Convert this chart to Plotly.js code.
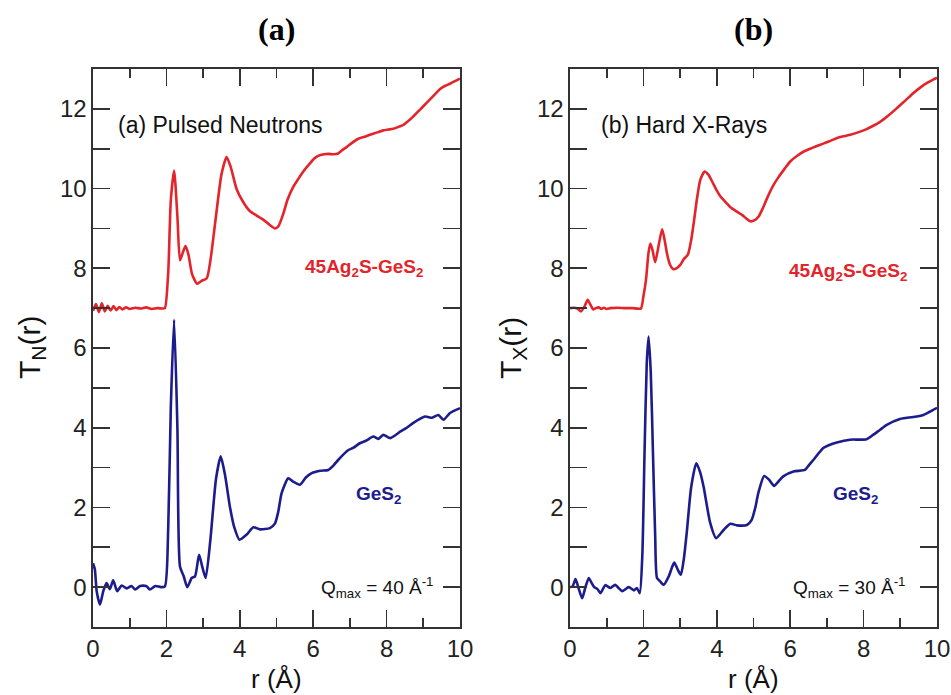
<!DOCTYPE html>
<html>
<head>
<meta charset="utf-8">
<script src="https://cdn.plot.ly/plotly-3.0.1.min.js"></script>
<style>html,body{margin:0;padding:0;background:#fff;}#chart{width:951px;height:695px;}</style>
</head>
<body>
<div id="chart"></div>
<script>
// ---- Data ----
// Panel (a): pulsed neutrons
const rN_Ag = [0,0.08,0.16,0.24,0.32,0.4,0.48,0.56,0.64,0.72,0.8,0.9,1.0,1.15,1.3,1.45,1.6,1.75,1.9,1.96,2.05,2.12,2.21,2.3,2.37,2.45,2.52,2.6,2.7,2.84,2.95,3.1,3.2,3.35,3.5,3.64,3.75,3.92,4.1,4.28,4.45,4.64,4.8,4.96,5.05,5.19,5.3,5.46,5.6,5.73,5.9,6.05,6.2,6.41,6.55,6.68,6.8,6.91,7.05,7.23,7.4,7.55,7.75,7.91,8.05,8.18,8.3,8.46,8.6,8.73,8.9,9.09,9.25,9.46,9.6,9.73,9.85,10];
const tN_Ag = [6.93,7.1,6.9,7.12,6.92,7.06,6.94,7.05,6.95,7.03,6.97,7.02,6.98,7.01,6.99,7.02,6.98,7.0,6.99,7.0,7.9,9.7,10.45,9.3,8.2,8.4,8.56,8.35,7.85,7.61,7.68,7.75,8.2,9.3,10.35,10.79,10.55,9.97,9.65,9.43,9.33,9.22,9.1,9.0,9.05,9.38,9.72,10.05,10.25,10.43,10.62,10.77,10.84,10.87,10.86,10.88,10.97,11.04,11.14,11.25,11.3,11.35,11.41,11.46,11.48,11.5,11.54,11.6,11.7,11.81,11.97,12.15,12.3,12.5,12.58,12.63,12.69,12.76];

const rN_Ge = [0,0.05,0.1,0.19,0.28,0.37,0.46,0.55,0.66,0.78,0.92,1.05,1.15,1.28,1.45,1.55,1.7,1.85,1.96,2.05,2.12,2.21,2.3,2.37,2.47,2.57,2.69,2.78,2.89,2.98,3.07,3.2,3.35,3.48,3.6,3.73,3.85,3.99,4.19,4.37,4.55,4.82,4.96,5.05,5.14,5.32,5.45,5.64,5.8,5.96,6.2,6.41,6.55,6.68,6.96,7.1,7.27,7.45,7.64,7.77,7.91,8.1,8.37,8.55,8.73,9.05,9.24,9.41,9.55,9.73,10];
const tN_Ge = [0.6,0.45,-0.1,-0.44,-0.1,0.1,-0.05,0.17,-0.1,0.04,-0.03,0.03,-0.06,0.03,0.03,-0.06,0.03,0.0,0.02,1.5,4.5,6.71,4.0,0.52,0.28,0.0,0.23,0.27,0.81,0.5,0.23,1.2,2.7,3.28,2.8,2.02,1.5,1.19,1.32,1.5,1.45,1.48,1.6,1.9,2.36,2.73,2.65,2.57,2.75,2.86,2.92,2.94,3.05,3.19,3.44,3.5,3.61,3.68,3.78,3.72,3.82,3.74,3.9,4.0,4.12,4.28,4.25,4.32,4.2,4.37,4.49];

// Panel (b): hard X-rays
const rX_Ag = [0,0.1,0.2,0.3,0.4,0.48,0.56,0.63,0.7,0.78,0.85,0.92,1.0,1.1,1.3,1.5,1.7,1.93,2.0,2.07,2.14,2.19,2.25,2.32,2.42,2.51,2.58,2.64,2.72,2.81,2.9,3.01,3.1,3.21,3.3,3.37,3.46,3.55,3.67,3.77,3.87,4.0,4.1,4.25,4.37,4.55,4.69,4.8,4.91,5.02,5.14,5.25,5.37,5.52,5.69,5.85,6.0,6.2,6.37,6.6,6.82,7.05,7.28,7.45,7.64,7.85,8.05,8.25,8.46,8.7,8.91,9.15,9.36,9.55,9.73,9.87,10];
const tX_Ag = [7.0,7.01,6.99,6.92,7.05,7.21,7.08,6.97,7.0,7.02,6.98,7.01,6.98,7.0,7.01,7.0,7.0,6.99,7.3,7.71,8.4,8.62,8.45,8.15,8.6,8.98,8.7,8.38,8.1,7.98,8.0,8.09,8.23,8.34,8.7,9.13,9.75,10.22,10.43,10.35,10.18,9.95,9.8,9.65,9.53,9.42,9.34,9.25,9.18,9.2,9.3,9.5,9.76,10.05,10.3,10.5,10.68,10.83,10.93,11.02,11.1,11.18,11.27,11.31,11.35,11.41,11.48,11.57,11.68,11.85,12.02,12.22,12.4,12.54,12.65,12.72,12.78];

const rX_Ge = [0,0.07,0.15,0.24,0.33,0.42,0.51,0.58,0.66,0.75,0.83,0.96,1.1,1.23,1.32,1.42,1.6,1.74,1.82,1.9,1.97,2.03,2.09,2.14,2.2,2.26,2.32,2.37,2.45,2.55,2.69,2.78,2.84,2.93,3.02,3.1,3.18,3.3,3.44,3.54,3.64,3.82,3.98,4.19,4.37,4.55,4.82,4.95,5.05,5.13,5.29,5.42,5.56,5.68,5.81,6.09,6.4,6.5,6.63,6.9,7.05,7.27,7.63,8.08,8.26,8.45,8.63,8.99,9.45,9.63,9.8,10];
const tX_Ge = [0.0,0.02,0.2,-0.05,-0.28,0.0,0.23,0.12,0.0,-0.05,-0.15,0.05,-0.02,0.06,-0.02,-0.1,0.0,-0.08,-0.02,-0.15,0.8,3.36,5.6,6.29,5.4,3.36,1.3,0.23,0.15,0.06,0.27,0.5,0.62,0.45,0.31,0.7,1.36,2.5,3.11,2.9,2.52,1.61,1.23,1.44,1.59,1.55,1.56,1.69,2.0,2.36,2.79,2.7,2.54,2.65,2.78,2.9,2.94,3.05,3.19,3.49,3.56,3.63,3.7,3.71,3.82,3.95,4.07,4.22,4.28,4.32,4.4,4.5];

const panelTitles = ["(a)", "(b)"];
const insetLabels = ["(a) Pulsed Neutrons", "(b) Hard X-Rays"];
const yTitles = ["T<sub>N</sub>(r)", "T<sub>X</sub>(r)"];
const qmaxLabels = ["Q<sub>max</sub> = 40 Å<sup>-1</sup>", "Q<sub>max</sub> = 30 Å<sup>-1</sup>"];
const agLabel = "45Ag<sub>2</sub>S-GeS<sub>2</sub>";
const geLabel = "GeS<sub>2</sub>";
const xTitle = "r (Å)";

// ---- Styling ----
const RED = "#e3242b";
const BLUE = "#1c1c8c";
const FONT = "Liberation Sans, Arial, sans-serif";
const AX = "#333";
const lineStyle = (c) => ({color: c, width: 2.6, shape: "spline", smoothing: 0.6});

const traces = [
  {x: rN_Ag, y: tN_Ag, xaxis: "x", yaxis: "y", mode: "lines", line: lineStyle(RED)},
  {x: rN_Ge, y: tN_Ge, xaxis: "x", yaxis: "y", mode: "lines", line: lineStyle(BLUE)},
  {x: rX_Ag, y: tX_Ag, xaxis: "x2", yaxis: "y2", mode: "lines", line: lineStyle(RED)},
  {x: rX_Ge, y: tX_Ge, xaxis: "x2", yaxis: "y2", mode: "lines", line: lineStyle(BLUE)},
  // empty traces that only carry the mirrored (top/right) tick axes
  {x: [], y: [], xaxis: "x3", yaxis: "y3", mode: "lines", hoverinfo: "skip"},
  {x: [], y: [], xaxis: "x4", yaxis: "y4", mode: "lines", hoverinfo: "skip"}
];

function xAx(domain, anchor, extra) {
  return Object.assign({
    domain: domain, anchor: anchor, range: [0, 10], dtick: 2, tick0: 0,
    showline: true, linecolor: AX, linewidth: 1.6, mirror: false,
    ticks: "inside", ticklen: 17, tickwidth: 1.6, tickcolor: AX,
    minor: {dtick: 1, ticklen: 9, tickwidth: 1.6, tickcolor: AX, ticks: "inside"},
    showgrid: false, zeroline: false,
    tickfont: {family: FONT, size: 24, color: "#222"}
  }, extra || {});
}
function yAx(anchor, extra) {
  return Object.assign({
    anchor: anchor, range: [-1, 13], dtick: 2, tick0: 0,
    showline: true, linecolor: AX, linewidth: 1.6, mirror: false,
    ticks: "inside", ticklen: 17, tickwidth: 1.6, tickcolor: AX,
    minor: {dtick: 1, ticklen: 17, tickwidth: 1.6, tickcolor: AX, ticks: "inside"},
    showgrid: false, zeroline: false,
    tickfont: {family: FONT, size: 24, color: "#222"}
  }, extra || {});
}

const ann = [];
[["x", "y", 0], ["x2", "y2", 1]].forEach(([xa, ya, i]) => {
  ann.push({xref: xa, yref: "paper", x: 5, y: 1.072, text: "<b>" + panelTitles[i] + "</b>", showarrow: false,
    font: {family: "Liberation Serif, Times New Roman, serif", size: 32, color: "#000"}, xanchor: "center", yanchor: "middle"});
  ann.push({xref: xa, yref: ya, x: i === 0 ? 0.62 : 0.8, y: 11.6, text: insetLabels[i], showarrow: false,
    font: {family: FONT, size: 23, color: "#111"}, xanchor: "left", yanchor: "middle"});
  ann.push({xref: xa, yref: ya, x: i === 0 ? 5.72 : 5.9, y: i === 0 ? 8.0 : 7.9, text: "<b>" + agLabel + "</b>", showarrow: false,
    font: {family: FONT, size: 19, color: RED}, xanchor: "left", yanchor: "middle"});
  ann.push({xref: xa, yref: ya, x: 7.12, y: 2.3, text: "<b>" + geLabel + "</b>", showarrow: false,
    font: {family: FONT, size: 19, color: BLUE}, xanchor: "left", yanchor: "middle"});
  ann.push({xref: xa, yref: ya, x: i === 0 ? 6.15 : 6.02, y: 0, text: qmaxLabels[i], showarrow: false,
    font: {family: FONT, size: 19, color: "#111"}, xanchor: "left", yanchor: "middle"});
  ann.push({xref: xa, yref: "paper", x: 5, y: -0.094, text: xTitle, showarrow: false,
    font: {family: FONT, size: 26, color: "#111"}, xanchor: "center", yanchor: "middle"});
  ann.push({xref: xa, yref: "paper", x: 0, y: 0.5, xshift: i === 0 ? -62 : -58, text: yTitles[i], showarrow: false,
    textangle: -90, font: {family: FONT, size: 30, color: "#111"}, xanchor: "center", yanchor: "middle"});
});

const noLabels = {showticklabels: false};
const layout = {
  width: 951, height: 695,
  margin: {l: 93, r: 14, t: 69, b: 68},
  paper_bgcolor: "#fff", plot_bgcolor: "#fff",
  showlegend: false,
  xaxis: xAx([0, 0.4348], "y"),
  yaxis: yAx("x"),
  xaxis2: xAx([0.5652, 1], "y2"),
  yaxis2: yAx("x2"),
  xaxis3: xAx([0, 0.4348], "y3", Object.assign({side: "top", overlaying: "x"}, noLabels)),
  yaxis3: yAx("x3", Object.assign({side: "right", overlaying: "y"}, noLabels)),
  xaxis4: xAx([0.5652, 1], "y4", Object.assign({side: "top", overlaying: "x2"}, noLabels)),
  yaxis4: yAx("x4", Object.assign({side: "right", overlaying: "y2"}, noLabels)),
  annotations: ann
};

Plotly.newPlot("chart", traces, layout, {displayModeBar: false, staticPlot: true});
</script>
</body>
</html>
